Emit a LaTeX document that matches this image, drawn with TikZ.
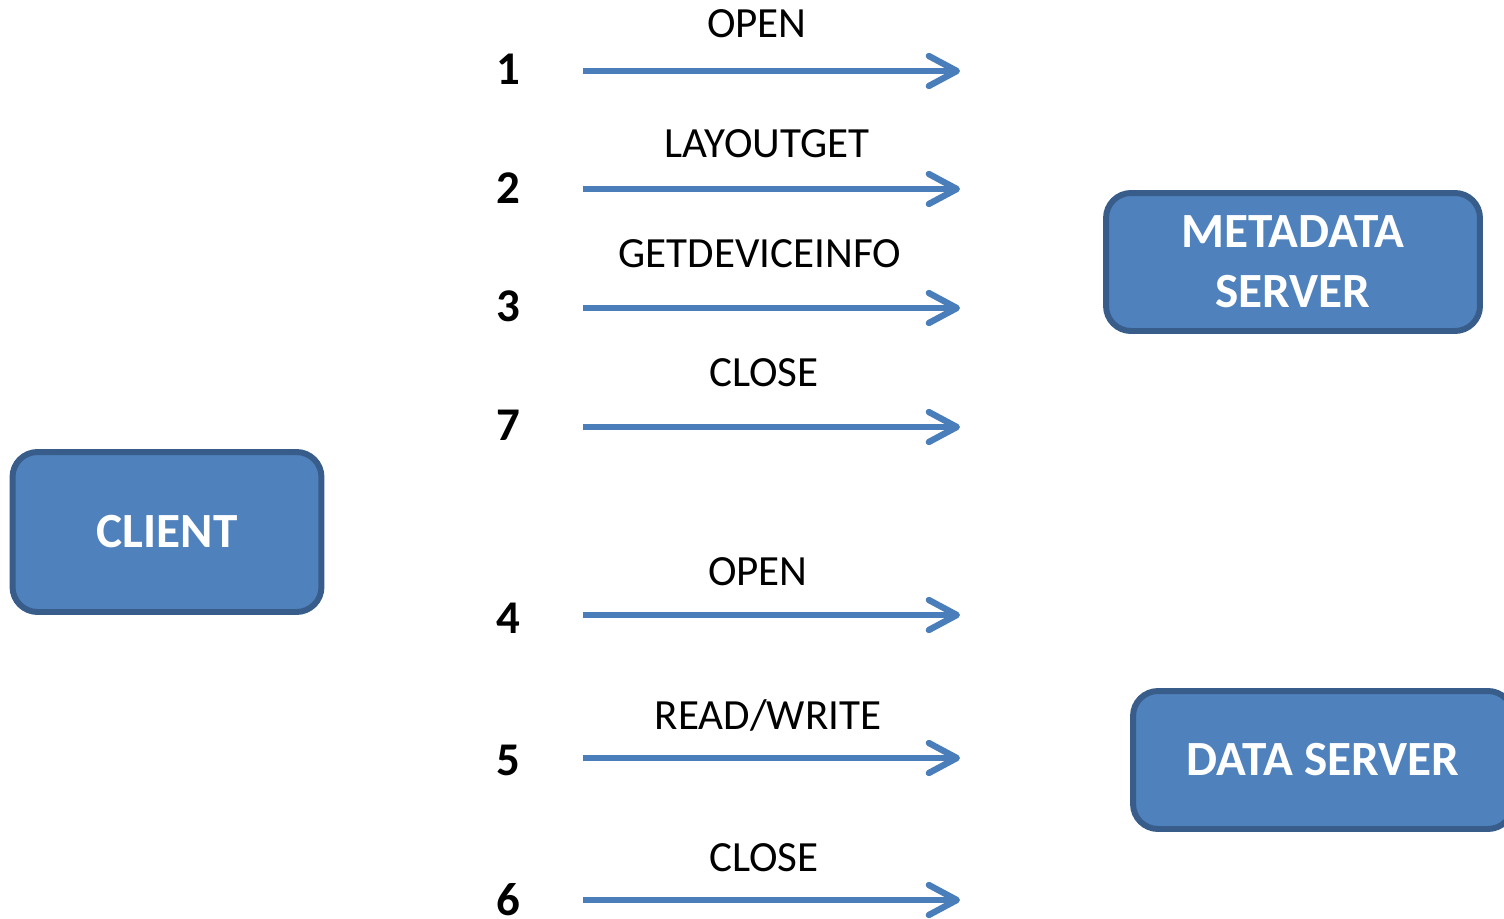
\documentclass[tikz,border=0pt]{standalone}
\usepackage{fontspec}
\setmainfont{Carlito}
\usetikzlibrary{arrows.meta,positioning}

\definecolor{boxfill}{RGB}{79,129,189}
\definecolor{boxline}{RGB}{56,93,138}
\definecolor{msgline}{RGB}{74,126,187}

\tikzset{
	party/.style={draw=boxline,fill=boxfill,line width=3.4pt,rounded corners=0.5cm,
		text=white,font=\fontsize{28}{34}\selectfont\bfseries,align=center,inner sep=0pt},
	msg/.style={draw=msgline,line width=3.6pt,-{Straight Barb[length=0.56cm,width=0.6cm,round]}},
	msglabel/.style={anchor=base,font=\fontsize{24.5}{28}\selectfont},
	stepnum/.style={anchor=base,font=\fontsize{26.7}{32}\selectfont\bfseries}
}

\begin{document}
\begin{tikzpicture}[x=0.02cm,y=-0.02cm]
	\useasboundingbox (0,0) rectangle (1504,919);
	% the three parties
	\node[party,minimum width=6.18cm,minimum height=3.2cm] (client) at (167,532) {CLIENT};
	\node[party,minimum width=7.48cm,minimum height=2.76cm] (mds) at (1293,262) {METADATA\\SERVER};
	\node[party,minimum width=7.6cm,minimum height=2.76cm] (ds) at (1323,760) {DATA SERVER};
	% metadata server messages
	\coordinate (s1) at (583,71);	\coordinate (e1) at (960,71);
	\coordinate (s2) at (583,189);	\coordinate (e2) at (960,189);
	\coordinate (s3) at (583,308);	\coordinate (e3) at (960,308);
	\coordinate (s7) at (583,427);	\coordinate (e7) at (960,427);
	\draw[msg] (s1) -- (e1);
	\draw[msg] (s2) -- (e2);
	\draw[msg] (s3) -- (e3);
	\draw[msg] (s7) -- (e7);
	\node[stepnum] (n1) at (508,85) {1};
	\node[stepnum] (n2) at (508,203) {2};
	\node[stepnum] (n3) at (508,321) {3};
	\node[stepnum] (n7) at (508,440) {7};
	\node[msglabel] (open1) at (757,38) {OPEN};
	\node[msglabel] (layoutget) at (767,157) {LAYOUTGET};
	\node[msglabel] (getdevinfo) at (760,267) {GETDEVICEINFO};
	\node[msglabel] (close7) at (764,386) {CLOSE};
	% data server messages
	\coordinate (s4) at (583,615);	\coordinate (e4) at (960,615);
	\coordinate (s5) at (583,758);	\coordinate (e5) at (960,758);
	\coordinate (s6) at (583,900);	\coordinate (e6) at (960,900);
	\draw[msg] (s4) -- (e4);
	\draw[msg] (s5) -- (e5);
	\draw[msg] (s6) -- (e6);
	\node[stepnum] (n4) at (508,633) {4};
	\node[stepnum] (n5) at (508,775) {5};
	\node[stepnum] (n6) at (508,915) {6};
	\node[msglabel] (open4) at (758,585) {OPEN};
	\node[msglabel] (readwrite) at (768,729) {READ/WRITE};
	\node[msglabel] (close6) at (764,871) {CLOSE};
\end{tikzpicture}
\end{document}
